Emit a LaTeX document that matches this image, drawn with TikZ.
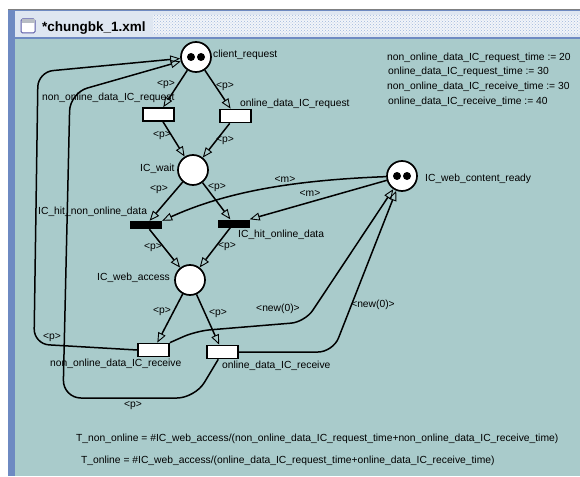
\documentclass[tikz,border=0pt]{standalone}
\usepackage{fontspec}
\setmainfont{Liberation Sans}
\usepackage{tikz}
\usetikzlibrary{arrows.meta}
\usetikzlibrary{patterns}
\usepackage{color}
\definecolor{tuerkis}{RGB}{169,203,203}
\definecolor{rahmen}{RGB}{110,138,194}
\definecolor{titelgrau}{RGB}{222,230,241}
\definecolor{punkte}{RGB}{160,182,220}

\begin{document}
\begin{tikzpicture}
     [
     x=1pt, y=-1pt,
     stelle/.style = {draw, line width=1.7pt, fill=white, shape=circle, minimum size=30pt, inner sep=0pt},
     uebergang/.style = {draw, line width=1.7pt, fill=white, minimum width=31pt, minimum height=13pt, inner sep=0pt},
     balken/.style = {fill=black, minimum width=32pt, minimum height=8pt, inner sep=0pt},
     beschr/.style = {inner sep=0pt, anchor=base west},
     kante/.style = {line width=1.5pt, ->},
     >={Triangle[open,length=10pt,width=8pt,line width=0.9pt]}
     ]
     \fontsize{10.3}{12}\selectfont

     \useasboundingbox (0,0) rectangle (580,476);
     % Fenster
     \fill[white] (0,0) rectangle (580,476);
     \fill[rahmen] (8,9) rectangle (580,476);
     \draw[gray] (8,9.5) -- (580,9.5);
     \fill[titelgrau] (15,11) rectangle (580,37);
     \fill[white!60!titelgrau] (153,15) rectangle (580,34);
     \fill[pattern=crosshatch dots, pattern color=punkte] (153,15) rectangle (580,34);
     \fill[tuerkis] (15,39) rectangle (580,476);
     \draw[gray!70!blue, fill=white, line width=1pt, rounded corners=1.5pt] (21,19) rectangle (35,33);
     \fill[gray!40!titelgrau] (21.5,19.5) rectangle (34.5,23);
     \path (42,32) node[beschr] (titel) {\fontsize{13.5}{16}\selectfont\bfseries *chungbk\_1.xml};

     % Stellen und Transitionen
     \path (196,57) node[stelle] (cr) {}
           (158.5,114.5) node[uebergang] (nreq) {}
           (235.5,116) node[uebergang] (oreq) {}
           (193,170) node[stelle] (icw) {}
           (146,225) node[balken] (hnon) {}
           (233.5,223.5) node[balken] (hon) {}
           (190,280) node[stelle] (wa) {}
           (402,176) node[stelle] (wcr) {}
           (153.5,350) node[uebergang] (nrec) {}
           (222.5,352) node[uebergang] (orec) {}
     ;
     \fill ([xshift=-5pt]cr.center) circle (4pt) ([xshift=5pt]cr.center) circle (4pt);
     \fill ([xshift=-5pt]wcr.center) circle (4pt) ([xshift=5pt]wcr.center) circle (4pt);

     \path (213,57.5) node[beschr] (tcr) {client\_request}
           (42,100) node[beschr] (tnreq) {non\_online\_data\_IC\_request}
           (240,106.5) node[beschr] (toreq) {online\_data\_IC\_request}
           (140,171.5) node[beschr] (ticw) {IC\_wait}
           (38,214.5) node[beschr] (thnon) {IC\_hit\_non\_online\_data}
           (238,237.5) node[beschr] (thon) {IC\_hit\_online\_data}
           (97,280.5) node[beschr] (twa) {IC\_web\_access}
           (425,181.5) node[beschr] (twcr) {IC\_web\_content\_ready}
           (50,366.5) node[beschr] (tnrec) {non\_online\_data\_IC\_receive}
           (222,368.5) node[beschr] (torec) {online\_data\_IC\_receive}
     ;

     \draw[kante] (cr) edge (nreq) edge (oreq)
     (nreq) edge (icw) (oreq) edge (icw)
     (icw) edge (hnon) edge (hon)
     (hnon) edge (wa) (hon) edge (wa)
     (wa) edge (nrec) edge (orec)
     (wcr) edge (hon.north east);

     \draw[kante] (wcr) .. controls (300,180) and (230,190) .. (hnon.north east);
     \draw[kante, rounded corners=14pt] (nrec.north east) -- (196,331) -- (305,322) -- (wcr);
     \draw[kante, rounded corners=15pt] (orec.east) -- (333,352) -- (wcr);
     \draw[kante, rounded corners=15pt] (nrec.west) -- (34,344) -- (38,72) -- (cr);
     \draw[kante, rounded corners=18pt] (orec.240) -- (195,398) -- (63,398) -- (70,93) -- (cr);

     % Kantenbeschriftungen
     \path (166,85) node (l1) {<p>}
           (225,87) node (l2) {<p>}
           (162,136) node (l3) {<p>}
           (225,141) node (l4) {<p>}
           (159,190) node (l5) {<p>}
           (217,188) node (l6) {<p>}
           (285,179) node (m1) {<m>}
           (310,193) node (m2) {<m>}
           (153,248) node (l7) {<p>}
           (227,247) node (l8) {<p>}
           (162,312) node (l9) {<p>}
           (218,314) node (l10) {<p>}
           (278,309) node (n1) {<new(0)>}
           (373,305) node (n2) {<new(0)>}
           (52,338) node (l11) {<p>}
           (133,406) node (l12) {<p>}
     ;

     % Variablen und Formeln
     \path (387,60.5) node[beschr] (v1) {non\_online\_data\_IC\_request\_time := 20}
           (388,74.5) node[beschr] (v2) {online\_data\_IC\_request\_time := 30}
           (387,89.5) node[beschr] (v3) {non\_online\_data\_IC\_receive\_time := 30}
           (388,104.5) node[beschr] (v4) {online\_data\_IC\_receive\_time := 40}
           (76,441.5) node[beschr] (f1) {T\_non\_online = \#IC\_web\_access/(non\_online\_data\_IC\_request\_time+non\_online\_data\_IC\_receive\_time)}
           (81,463) node[beschr] (f2) {T\_online = \#IC\_web\_access/(online\_data\_IC\_request\_time+online\_data\_IC\_receive\_time)}
     ;
\end{tikzpicture}
\end{document}
